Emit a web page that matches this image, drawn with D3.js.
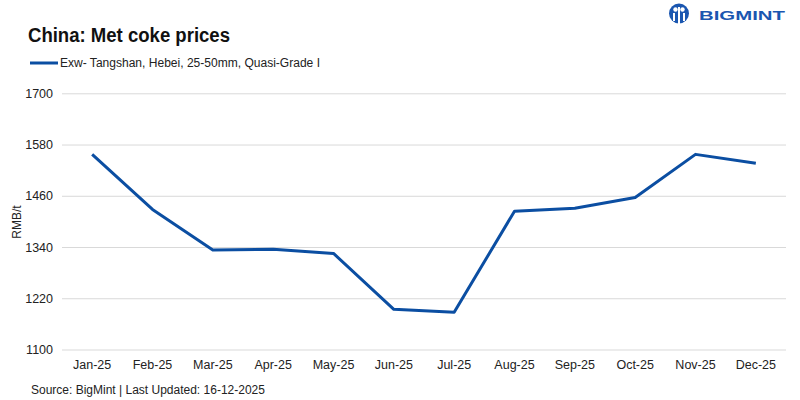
<!DOCTYPE html>
<html><head><meta charset="utf-8">
<script src="https://cdn.jsdelivr.net/npm/d3@7"></script>
<style>
body{margin:0;background:#fff;}
svg text{font-family:"Liberation Sans",Arial,sans-serif;}
</style></head>
<body><svg id="c" width="800" height="400"></svg>
<script>
const months = ["Jan-25","Feb-25","Mar-25","Apr-25","May-25","Jun-25","Jul-25","Aug-25","Sep-25","Oct-25","Nov-25","Dec-25"];
const prices = [1557,1428,1333,1335,1325,1194,1187,1424,1431,1456,1557,1536];
const yTicks = [1100,1220,1340,1460,1580,1700];
const seriesName = "Exw- Tangshan, Hebei, 25-50mm, Quasi-Grade I";

const svg = d3.select("#c");
const mLeft = 62, mRight = 786, mTop = 93.3, mBottom = 349.5;
const x = d3.scaleBand().domain(months).range([mLeft, mRight]);
const y = d3.scaleLinear().domain([1100, 1700]).range([mBottom, mTop]);
const blue = "#0b4ea2";

svg.append("text").attr("x", 28).attr("y", 42).attr("font-size", 20).attr("font-weight", "bold")
  .attr("fill", "#111").attr("textLength", 202).attr("lengthAdjust", "spacingAndGlyphs")
  .text("China: Met coke prices");

// legend
svg.append("line").attr("x1", 30).attr("x2", 58).attr("y1", 63).attr("y2", 63)
  .attr("stroke", blue).attr("stroke-width", 3);
svg.append("text").attr("x", 60).attr("y", 67).attr("font-size", 12.5).attr("fill", "#222")
  .attr("textLength", 260).attr("lengthAdjust", "spacingAndGlyphs").text(seriesName);

// logo
const logo = svg.append("g");
logo.append("circle").attr("cx", 679).attr("cy", 13.5).attr("r", 10).attr("fill", "#1a56b0");
logo.append("circle").attr("cx", 675.5).attr("cy", 9.5).attr("r", 2.2).attr("fill", "#fff");
logo.append("circle").attr("cx", 682.5).attr("cy", 9.5).attr("r", 2.2).attr("fill", "#fff");
logo.append("rect").attr("x", 678).attr("y", 7).attr("width", 2).attr("height", 17).attr("fill", "#fff");
logo.append("rect").attr("x", 673).attr("y", 13).attr("width", 2).attr("height", 8).attr("fill", "#fff");
logo.append("rect").attr("x", 683).attr("y", 13).attr("width", 2).attr("height", 8).attr("fill", "#fff");
logo.append("text").attr("x", 699).attr("y", 20).attr("font-size", 12.5).attr("font-weight", "bold")
  .attr("fill", "#1a56b0").attr("textLength", 86).attr("lengthAdjust", "spacingAndGlyphs")
  .text("BIGMINT");

// y grid + ticks
const yAxis = svg.append("g").attr("transform", `translate(${mLeft},0)`)
  .call(d3.axisLeft(y).tickValues(yTicks).tickSize(-(mRight - mLeft)).tickPadding(9).tickFormat(d3.format("d")));
yAxis.select(".domain").remove();
yAxis.selectAll(".tick line").attr("stroke", "#d9d9d9").attr("stroke-width", 1);
yAxis.selectAll(".tick text").attr("font-size", 12.5).attr("fill", "#222")
  .style("font-family", "'Liberation Sans',Arial,sans-serif");

// x axis labels
const xAxis = svg.append("g").attr("transform", `translate(0,${mBottom})`)
  .call(d3.axisBottom(x).tickSize(0).tickPadding(11));
xAxis.select(".domain").remove();
xAxis.selectAll(".tick text").attr("font-size", 12.5).attr("fill", "#222")
  .style("font-family", "'Liberation Sans',Arial,sans-serif");

// y axis title
svg.append("text").attr("transform", "translate(21,222) rotate(-90)").attr("text-anchor", "middle")
  .attr("font-size", 12).attr("fill", "#222").text("RMB/t");

// line
const line = d3.line().x((d, i) => x(months[i]) + x.bandwidth() / 2).y(d => y(d));
svg.append("path").datum(prices).attr("d", line).attr("fill", "none")
  .attr("stroke", blue).attr("stroke-width", 3).attr("stroke-linejoin", "round");

svg.append("text").attr("x", 31).attr("y", 394).attr("font-size", 12).attr("fill", "#222")
  .text("Source: BigMint | Last Updated: 16-12-2025");
</script></body></html>
